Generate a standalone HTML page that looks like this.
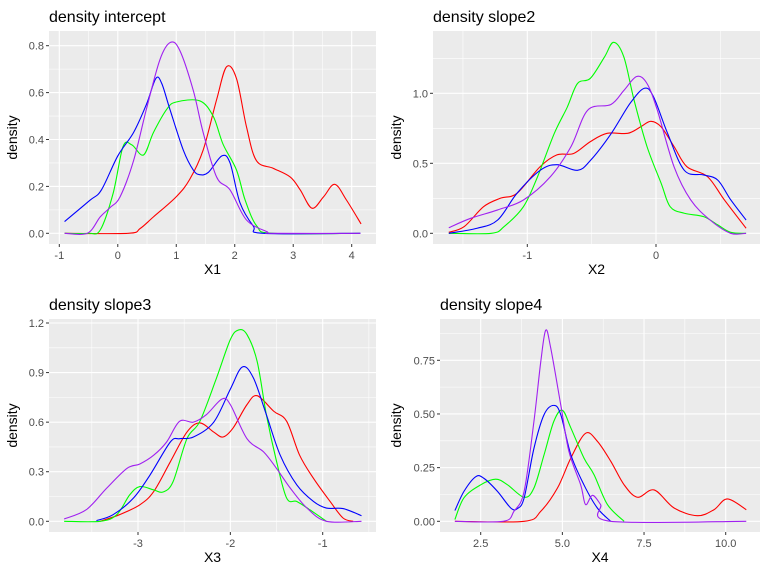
<!DOCTYPE html>
<html><head><meta charset="utf-8"><style>
body{margin:0;background:#fff;}
svg{display:block;font-family:"Liberation Sans",Arial,sans-serif;}
</style></head><body>
<svg id="chart" width="768" height="576" viewBox="0 0 768 576"></svg>
<script>
// ---------- data ----------
const seriesColors = ["#ff0000","#00ff00","#0000ff","#a020f0"];
const seriesNames = ["red","green","blue","purple"];
const p1Red=[[-0.91,0],[0.18,0],[0.38,0.02],[0.61,0.07],[1.0,0.156],[1.23,0.23],[1.46,0.355],[1.69,0.57],[1.86,0.71],[2.03,0.66],[2.2,0.455],[2.37,0.31],[2.66,0.277],[2.95,0.24],[3.12,0.185],[3.32,0.107],[3.52,0.156],[3.71,0.209],[3.91,0.142],[4.16,0.04]];
const p1Green=[[-0.91,0],[-0.5,0],[-0.3,0.014],[-0.08,0.17],[0.09,0.37],[0.24,0.377],[0.44,0.334],[0.61,0.43],[0.84,0.53],[1.0,0.56],[1.4,0.565],[1.63,0.5],[1.8,0.38],[2.03,0.27],[2.18,0.14],[2.38,0.03],[2.66,0],[4.15,0]];
const p1Blue=[[-0.91,0.05],[-0.48,0.14],[-0.28,0.185],[0,0.33],[0.27,0.43],[0.49,0.55],[0.65,0.66],[0.75,0.64],[0.89,0.53],[1.12,0.355],[1.29,0.27],[1.4,0.25],[1.55,0.26],[1.78,0.33],[1.92,0.3],[2.09,0.13],[2.32,0.03],[2.49,0],[4.15,0]];
const p1Purple=[[-0.91,0],[-0.52,0],[-0.3,0.07],[-0.13,0.11],[0.04,0.156],[0.27,0.31],[0.49,0.53],[0.72,0.74],[0.9,0.814],[1.06,0.78],[1.29,0.61],[1.46,0.43],[1.69,0.24],[1.92,0.185],[2.2,0.057],[2.55,0.007],[2.66,0],[4.15,0]];

const p2Red=[[-1.61,0.007],[-1.49,0.048],[-1.34,0.19],[-1.21,0.25],[-1.08,0.286],[-0.9,0.476],[-0.77,0.56],[-0.64,0.57],[-0.51,0.655],[-0.38,0.714],[-0.22,0.714],[-0.12,0.76],[-0.04,0.8],[0.04,0.76],[0.14,0.62],[0.24,0.476],[0.4,0.405],[0.53,0.24],[0.7,0.036]];
const p2Green=[[-1.61,0],[-1.28,0],[-1.18,0.048],[-1.03,0.19],[-0.92,0.405],[-0.79,0.714],[-0.69,0.9],[-0.61,1.07],[-0.51,1.107],[-0.4,1.26],[-0.33,1.364],[-0.25,1.26],[-0.17,0.95],[-0.07,0.62],[0.04,0.357],[0.11,0.19],[0.22,0.143],[0.37,0.119],[0.48,0.06],[0.58,0.007],[0.7,0]];
const p2Blue=[[-1.61,0],[-1.39,0.036],[-1.23,0.095],[-1.08,0.286],[-0.9,0.45],[-0.77,0.49],[-0.61,0.45],[-0.51,0.52],[-0.35,0.71],[-0.2,0.93],[-0.09,1.036],[-0.02,0.976],[0.09,0.714],[0.22,0.45],[0.37,0.417],[0.48,0.38],[0.58,0.24],[0.7,0.095]];
const p2Purple=[[-1.61,0.04],[-1.44,0.107],[-1.23,0.167],[-1.03,0.238],[-0.82,0.405],[-0.66,0.62],[-0.53,0.88],[-0.35,0.92],[-0.25,1.02],[-0.15,1.12],[-0.07,1.07],[0.01,0.88],[0.14,0.476],[0.27,0.238],[0.42,0.095],[0.58,0],[0.7,0]];

const p3Red=[[-3.41,0],[-3.2,0.04],[-2.98,0.1],[-2.83,0.18],[-2.65,0.36],[-2.47,0.54],[-2.33,0.595],[-2.18,0.54],[-2.08,0.51],[-1.97,0.565],[-1.82,0.706],[-1.71,0.76],[-1.53,0.666],[-1.39,0.605],[-1.25,0.4],[-1.1,0.26],[-0.92,0.12],[-0.78,0.02],[-0.67,0]];
const p3Green=[[-3.8,0],[-3.41,0],[-3.23,0.04],[-3.09,0.16],[-2.98,0.21],[-2.83,0.19],[-2.73,0.177],[-2.62,0.24],[-2.47,0.5],[-2.33,0.605],[-2.15,0.867],[-2.0,1.1],[-1.91,1.158],[-1.82,1.13],[-1.71,0.968],[-1.61,0.645],[-1.5,0.363],[-1.39,0.14],[-1.28,0.12],[-1.14,0.07],[-0.96,0]];
const p3Blue=[[-3.45,0.004],[-3.27,0.04],[-3.05,0.14],[-2.87,0.28],[-2.65,0.48],[-2.55,0.5],[-2.4,0.51],[-2.18,0.6],[-2.0,0.8],[-1.87,0.934],[-1.75,0.867],[-1.61,0.645],[-1.46,0.4],[-1.28,0.22],[-1.1,0.12],[-0.96,0.08],[-0.78,0.077],[-0.58,0.034]];
const p3Purple=[[-3.8,0.014],[-3.56,0.07],[-3.34,0.2],[-3.12,0.32],[-2.98,0.347],[-2.83,0.4],[-2.69,0.48],[-2.55,0.605],[-2.4,0.6],[-2.26,0.645],[-2.09,0.74],[-2.0,0.706],[-1.82,0.5],[-1.64,0.42],[-1.5,0.32],[-1.35,0.2],[-1.17,0.08],[-0.96,0],[-0.58,0]];

const p4Red=[[1.71,0],[3.83,0],[4.34,0.047],[4.85,0.155],[5.26,0.295],[5.71,0.41],[6.07,0.373],[6.48,0.28],[6.89,0.17],[7.3,0.112],[7.81,0.146],[8.42,0.062],[9.13,0.026],[9.64,0.054],[10.05,0.104],[10.63,0.054]];
const p4Green=[[1.71,0.008],[1.99,0.11],[2.5,0.17],[2.96,0.196],[3.32,0.17],[3.83,0.112],[4.13,0.155],[4.44,0.31],[4.74,0.466],[5.0,0.517],[5.26,0.435],[5.66,0.295],[5.97,0.217],[6.38,0.078],[6.89,0]];
const p4Blue=[[1.71,0.05],[1.99,0.14],[2.35,0.208],[2.6,0.2],[3.01,0.14],[3.42,0.062],[3.62,0.059],[3.83,0.109],[4.13,0.34],[4.44,0.497],[4.74,0.54],[4.95,0.497],[5.26,0.31],[5.66,0.17],[6.07,0.062],[6.48,0]];
const p4Purple=[[1.71,0],[3.19,0],[3.52,0.047],[3.83,0.14],[4.13,0.466],[4.34,0.745],[4.49,0.89],[4.64,0.81],[4.95,0.543],[5.2,0.326],[5.56,0.17],[5.71,0.078],[5.92,0.121],[6.17,0.078],[6.48,0],[10.63,0]];

const p1XTicks=[-1,0,1,2,3,4], p1YTicks=[0,0.2,0.4,0.6,0.8];
const p2XTicks=[-1,0], p2YTicks=[0,0.5,1.0];
const p3XTicks=[-3,-2,-1], p3YTicks=[0,0.3,0.6,0.9,1.2];
const p4XTicks=[2.5,5,7.5,10], p4YTicks=[0,0.25,0.5,0.75];
const p1YLabels=["0.0","0.2","0.4","0.6","0.8"], p2YLabels=["0.0","0.5","1.0"], p3YLabels=["0.0","0.3","0.6","0.9","1.2"], p4YLabels=["0.00","0.25","0.50","0.75"];
const p1XLabels=["-1","0","1","2","3","4"], p2XLabels=["-1","0"], p3XLabels=["-3","-2","-1"], p4XLabels=["2.5","5.0","7.5","10.0"];

// ---------- layout ----------
const panels=[
 {id:"intercept",title:"density intercept",xt:"X1",L:49,R:376,T:31,B:244,tx:49,
  x0:-1,px0:59.3,x1:4,px1:351.7,y0:0,py0:233.3,y1:0.8,py1:45.7,
  xT:p1XTicks,xL:p1XLabels,yT:p1YTicks,yL:p1YLabels,s:[p1Red,p1Green,p1Blue,p1Purple]},
 {id:"slope2",title:"density slope2",xt:"X2",L:433,R:760,T:31,B:244,tx:433,
  x0:-1,px0:527.3,x1:0,px1:656,y0:0,py0:233.3,y1:1,py1:93.3,
  xT:p2XTicks,xL:p2XLabels,yT:p2YTicks,yL:p2YLabels,s:[p2Red,p2Green,p2Blue,p2Purple]},
 {id:"slope3",title:"density slope3",xt:"X3",L:49,R:376,T:319,B:532,tx:49,
  x0:-3,px0:138,x1:-1,px1:322.7,y0:0,py0:521.3,y1:1.2,py1:323,
  xT:p3XTicks,xL:p3XLabels,yT:p3YTicks,yL:p3YLabels,s:[p3Red,p3Green,p3Blue,p3Purple]},
 {id:"slope4",title:"density slope4",xt:"X4",L:440,R:760,T:319,B:532,tx:440,
  x0:2.5,px0:480.7,x1:10,px1:725.7,y0:0,py0:521.3,y1:0.75,py1:360.3,
  xT:p4XTicks,xL:p4XLabels,yT:p4YTicks,yL:p4YLabels,s:[p4Red,p4Green,p4Blue,p4Purple]}
];
const NS="http://www.w3.org/2000/svg";
const svg=document.getElementById("chart");
function mk(tag,attrs,parent){const e=document.createElementNS(NS,tag);for(const k in attrs)e.setAttribute(k,attrs[k]);parent.appendChild(e);return e;}
function smooth(pts){
 let d="M"+pts[0][0].toFixed(2)+","+pts[0][1].toFixed(2);
 for(let i=0;i<pts.length-1;i++){
  const p0=pts[Math.max(i-1,0)],p1=pts[i],p2=pts[i+1],p3=pts[Math.min(i+2,pts.length-1)];
  const c1=[p1[0]+(p2[0]-p0[0])/6,p1[1]+(p2[1]-p0[1])/6];
  const c2=[p2[0]-(p3[0]-p1[0])/6,p2[1]-(p3[1]-p1[1])/6];
  d+="C"+c1[0].toFixed(2)+","+c1[1].toFixed(2)+" "+c2[0].toFixed(2)+","+c2[1].toFixed(2)+" "+p2[0].toFixed(2)+","+p2[1].toFixed(2);
 }
 return d;
}
panels.forEach(p=>{
 const sx=v=>p.px0+(v-p.x0)*(p.px1-p.px0)/(p.x1-p.x0);
 const sy=v=>p.py0+(v-p.y0)*(p.py1-p.py0)/(p.y1-p.y0);
 const g=mk("g",{},svg);
 
 
 const bg=mk("rect",{x:p.L,y:p.T,width:p.R-p.L,height:p.B-p.T,fill:"#ebebeb"},g);
 
 
 const dx=p.xT[1]-p.xT[0], dy=p.yT[1]-p.yT[0];
 for(let v=p.xT[0]-dx*1.5;v<=p.xT[p.xT.length-1]+dx*1.5;v+=dx){const X=sx(v);if(X>p.L&&X<p.R){const l=mk("line",{x1:X,x2:X,y1:p.T,y2:p.B,stroke:"#fff","stroke-width":0.55},g);}}
 for(let v=p.yT[0]-dy*1.5;v<=p.yT[p.yT.length-1]+dy*1.5;v+=dy){const Y=sy(v);if(Y>p.T&&Y<p.B){const l=mk("line",{x1:p.L,x2:p.R,y1:Y,y2:Y,stroke:"#fff","stroke-width":0.55},g);}}
 p.xT.forEach((v,i)=>{const X=sx(v);
  const l=mk("line",{x1:X,x2:X,y1:p.T,y2:p.B,stroke:"#fff","stroke-width":1.1},g);
  const t=mk("line",{x1:X,x2:X,y1:p.B,y2:p.B+3,stroke:"#333","stroke-width":1},g);
  const tx=mk("text",{x:X,y:p.B+15,"text-anchor":"middle","font-size":11,fill:"#4d4d4d"},g);tx.textContent=p.xL[i];});
 p.yT.forEach((v,i)=>{const Y=sy(v);
  const l=mk("line",{x1:p.L,x2:p.R,y1:Y,y2:Y,stroke:"#fff","stroke-width":1.1},g);
  const t=mk("line",{x1:p.L-3,x2:p.L,y1:Y,y2:Y,stroke:"#333","stroke-width":1},g);
  const tx=mk("text",{x:p.L-5,y:Y+4,"text-anchor":"end","font-size":11,fill:"#4d4d4d"},g);tx.textContent=p.yL[i];});
 p.s.forEach((ser,k)=>{
  const pts=ser.map(q=>[sx(q[0]),sy(q[1])]);
  const path=mk("path",{d:smooth(pts),fill:"none",stroke:seriesColors[k],"stroke-width":1.1},g);
  
  
 });
 const ti=mk("text",{x:p.tx,y:p.T-9,"font-size":16,fill:"#000"},g);ti.textContent=p.title;
 
 const xa=mk("text",{x:(p.L+p.R)/2,y:p.B+30,"text-anchor":"middle","font-size":14,fill:"#000"},g);xa.textContent=p.xt;
 
 const ya=mk("text",{x:0,y:0,transform:"translate("+(p.L<100?17:401)+","+((p.T+p.B)/2)+") rotate(-90)","text-anchor":"middle","font-size":14,fill:"#000"},g);ya.textContent="density";
 
});
</script>
</body></html>
